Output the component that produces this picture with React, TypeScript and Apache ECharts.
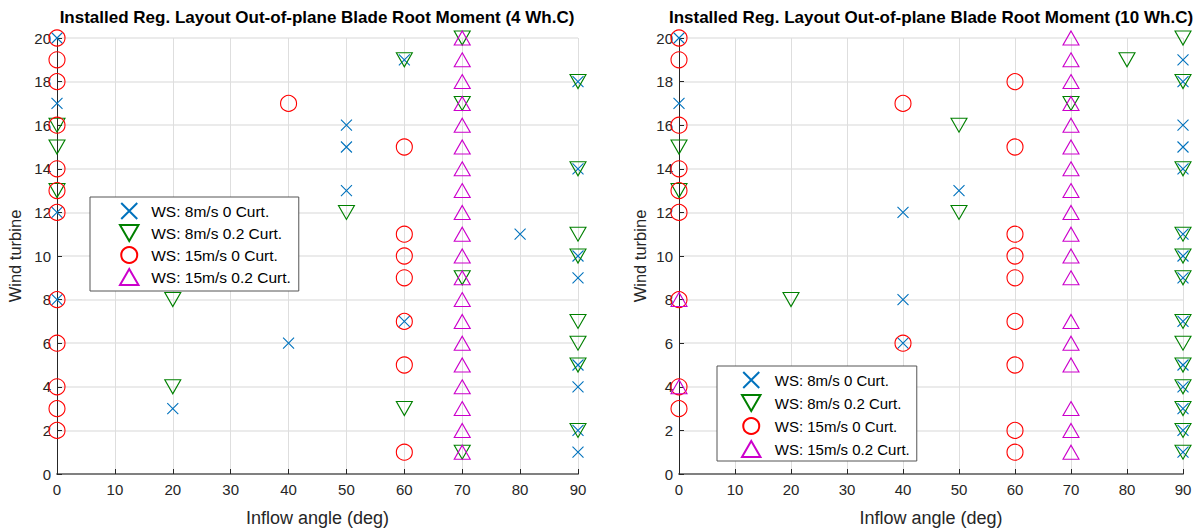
import React, { useEffect, useRef } from "react";
import * as echarts from "echarts";

// Wind turbine numbers (y values)
const turbines = [1, 2, 3, 4, 5, 6, 7, 8, 9, 10, 11, 12, 13, 14, 15, 16, 17, 18, 19, 20];

// Inflow angle (deg) chosen for each turbine, 4 Wh.C case
const leftWs8Curt0 = [90, 90, 20, 90, 90, 40, 60, 0, 90, 90, 80, 0, 50, 90, 50, 50, 0, 90, 60, 0];
const leftWs8Curt02 = [70, 90, 60, 20, 90, 90, 90, 20, 70, 90, 90, 50, 0, 90, 0, 0, 70, 90, 60, 70];
const leftWs15Curt0 = [60, 0, 0, 0, 60, 0, 60, 0, 60, 60, 60, 0, 0, 0, 60, 0, 40, 0, 0, 0];
const leftWs15Curt02 = [70, 70, 70, 70, 70, 70, 70, 70, 70, 70, 70, 70, 70, 70, 70, 70, 70, 70, 70, 70];

// Inflow angle (deg) chosen for each turbine, 10 Wh.C case
const rightWs8Curt0 = [90, 90, 90, 90, 90, 40, 90, 40, 90, 90, 90, 40, 50, 90, 90, 90, 0, 90, 90, 0];
const rightWs8Curt02 = [90, 90, 90, 90, 90, 90, 90, 20, 90, 90, 90, 50, 0, 90, 0, 50, 70, 90, 80, 90];
const rightWs15Curt0 = [60, 60, 0, 0, 60, 40, 60, 0, 60, 60, 60, 0, 0, 0, 60, 0, 40, 60, 0, 0];
const rightWs15Curt02 = [70, 70, 70, 0, 70, 70, 70, 0, 70, 70, 70, 70, 70, 70, 70, 70, 70, 70, 70, 70];

const seriesNames = [
  "WS: 8m/s 0 Curt.",
  "WS: 8m/s 0.2 Curt.",
  "WS: 15m/s 0 Curt.",
  "WS: 15m/s 0.2 Curt.",
];
const titles = [
  "Installed Reg. Layout Out-of-plane Blade Root Moment (4 Wh.C)",
  "Installed Reg. Layout Out-of-plane Blade Root Moment (10 Wh.C)",
];
const xTicks = { min: 0, max: 90, interval: 10 };
const yTicks = { min: 0, max: 20, interval: 2 };
const xName = "Inflow angle (deg)";
const yName = "Wind turbine";

const FONT = "'Liberation Sans', Arial, Helvetica, sans-serif";
const colors = ["#0072BD", "#008000", "#FF0000", "#CC00CC"];
const symbols = [
  "path://M0,0L10,10M10,0L0,10",
  "path://M0,0L10,0L5,8.66Z",
  "circle",
  "path://M5,0L10,8.66L0,8.66Z",
];
const sizes: any[] = [11, [16, 14], 16, [16, 14]];

function makeSeries(name: string, angles: number[], idx: number, gridIndex: number) {
  return {
    type: "scatter",
    name,
    xAxisIndex: gridIndex,
    yAxisIndex: gridIndex,
    symbol: symbols[idx],
    symbolSize: sizes[idx],
    itemStyle: {
      color: "rgba(0,0,0,0)",
      borderColor: colors[idx],
      borderWidth: 1.1,
      opacity: 1,
    },
    emphasis: { disabled: true },
    data: turbines.map((t, i) => [angles[i], t]),
  };
}

function axisX(gridIndex: number) {
  return {
    type: "value",
    gridIndex,
    min: xTicks.min,
    max: xTicks.max,
    interval: xTicks.interval,
    name: xName,
    nameLocation: "middle",
    nameGap: 35,
    nameTextStyle: { fontFamily: FONT, fontSize: 18, color: "#262626" },
    axisLine: { show: true, lineStyle: { color: "#808080", width: 2 } },
    axisTick: { show: true, inside: true, length: 5, lineStyle: { color: "#262626", width: 1 } },
    axisLabel: { fontFamily: FONT, fontSize: 15, color: "#262626", margin: 8 },
    splitLine: { show: true, lineStyle: { color: "#dedede", width: 1 } },
  };
}

function axisY(gridIndex: number, gap: number) {
  return {
    type: "value",
    gridIndex,
    min: yTicks.min,
    max: yTicks.max,
    interval: yTicks.interval,
    name: yName,
    nameLocation: "middle",
    nameGap: gap,
    nameTextStyle: { fontFamily: FONT, fontSize: 16.5, color: "#262626" },
    axisLine: { show: true, lineStyle: { color: "#262626", width: 1 } },
    axisTick: { show: true, inside: true, length: 5, lineStyle: { color: "#262626", width: 1 } },
    axisLabel: { fontFamily: FONT, fontSize: 15, color: "#262626", margin: 6 },
    splitLine: { show: true, lineStyle: { color: "#ebebeb", width: 2 } },
  };
}

function legendAt(left: number, top: number, padding: number[], itemWidth: number, gap: number, fontSize: number) {
  return {
    orient: "vertical",
    left,
    top,
    data: seriesNames,
    backgroundColor: "#ffffff",
    borderColor: "#555555",
    borderWidth: 1,
    padding,
    itemWidth,
    itemHeight: 16,
    itemGap: gap,
    selectedMode: false,
    textStyle: { fontFamily: FONT, fontSize, lineHeight: 16, color: "#000000" },
  };
}

export default function App() {
  const ref = useRef<HTMLDivElement>(null);
  useEffect(() => {
    if (!ref.current) return;
    const chart = echarts.init(ref.current, undefined, { renderer: "svg" });
    const leftSets = [leftWs8Curt0, leftWs8Curt02, leftWs15Curt0, leftWs15Curt02];
    const rightSets = [rightWs8Curt0, rightWs8Curt02, rightWs15Curt0, rightWs15Curt02];
    const titleStyle = { fontFamily: FONT, fontSize: 17, fontWeight: "bold", color: "#000000" };
    const option: any = {
      animation: false,
      backgroundColor: "#ffffff",
      title: [
        { text: titles[0], left: 317, top: 9, padding: 0, textAlign: "center", textStyle: titleStyle },
        { text: titles[1], left: 931, top: 9, padding: 0, textAlign: "center", textStyle: titleStyle },
      ],
      grid: [
        { left: 57, top: 38, width: 521, height: 440, containLabel: false },
        { left: 679, top: 38, width: 504, height: 440, containLabel: false },
      ],
      xAxis: [axisX(0), axisX(1)],
      yAxis: [axisY(0, 33.5), axisY(1, 31)],
      legend: [
        legendAt(90, 197, [5, 8, 5, 29], 34, 4, 15.5),
        legendAt(717, 366, [5, 7, 3, 24], 37, 5, 15),
      ],
      series: [
        ...leftSets.map((s, i) => makeSeries(seriesNames[i], s, i, 0)),
        ...rightSets.map((s, i) => makeSeries(seriesNames[i], s, i, 1)),
      ],
    };
    chart.setOption(option);
    return () => chart.dispose();
  }, []);
  return (
    <div
      ref={ref}
      style={{ position: "fixed", left: 0, top: 0, width: 1195, height: 532, background: "#fff" }}
    />
  );
}
